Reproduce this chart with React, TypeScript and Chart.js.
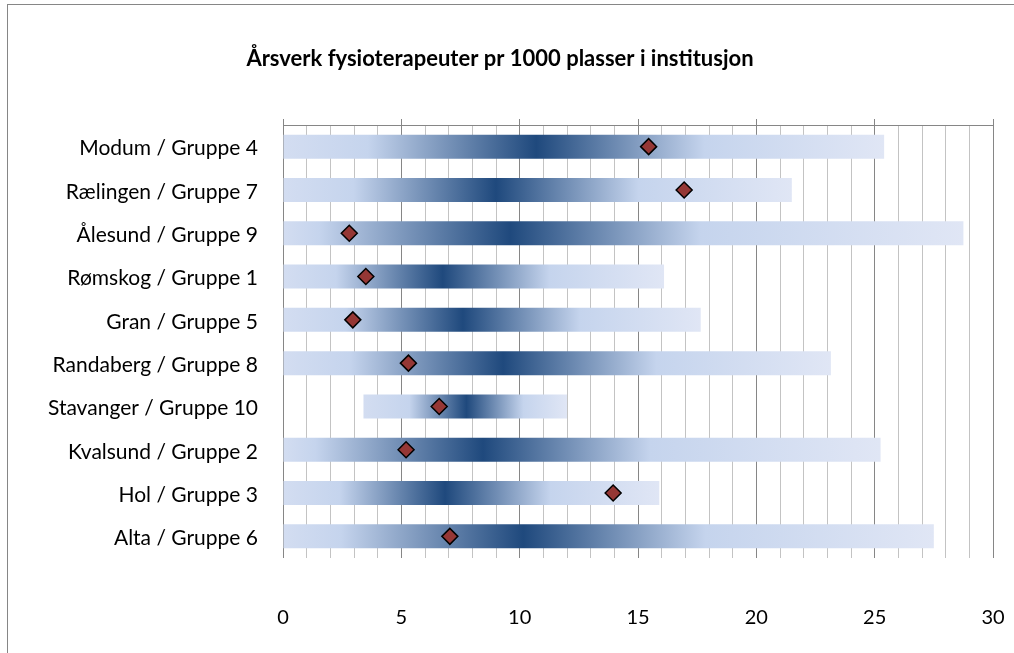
import React, { useEffect, useRef } from 'react';
import { Chart, registerables } from 'chart.js';

Chart.register(...registerables);

const categories = [
  'Modum / Gruppe 4',
  'Rælingen / Gruppe 7',
  'Ålesund / Gruppe 9',
  'Rømskog / Gruppe 1',
  'Gran / Gruppe 5',
  'Randaberg / Gruppe 8',
  'Stavanger / Gruppe 10',
  'Kvalsund / Gruppe 2',
  'Hol / Gruppe 3',
  'Alta / Gruppe 6',
];
const rangeStart = [0, 0, 0, 0, 0, 0, 3.4, 0, 0, 0];
const rangeEnd = [25.4, 21.5, 28.75, 16.1, 17.65, 23.15, 12.0, 25.25, 15.9, 27.5];
const groupMid = [10.7, 9.0, 9.6, 6.75, 7.6, 9.3, 7.75, 8.45, 6.85, 10.15];
const municipalityValue = [15.45, 16.95, 2.8, 3.5, 2.95, 5.3, 6.6, 5.2, 13.95, 7.05];
const xTickLabels = [0, 5, 10, 15, 20, 25, 30];
const chartTitle = 'Årsverk fysioterapeuter pr 1000 plasser i institusjon';

const FONT = 'Lato, "Open Sans", sans-serif';

const titlePlugin = {
  id: 'customTitle',
  afterDraw(chart: any) {
    const ctx = chart.ctx;
    ctx.save();
    ctx.font = `bold 22px ${FONT}`;
    ctx.fillStyle = '#000';
    ctx.textAlign = 'center';
    ctx.textBaseline = 'alphabetic';
    ctx.fillText(chartTitle, 500, 66);
    ctx.restore();
  },
};

const zeroPad = (s: any) => {
  s.paddingLeft = 0;
  s.paddingRight = 0;
  s.paddingTop = 0;
  s.paddingBottom = 0;
};

export default function App() {
  const ref = useRef<HTMLCanvasElement | null>(null);

  useEffect(() => {
    if (!ref.current) return;
    const barGradient = (c: any) => {
      const chart = c.chart;
      const i = c.dataIndex;
      const xs = chart.scales && chart.scales.x;
      if (!xs || i == null || i < 0) return '#c5d4ed';
      const x0 = xs.getPixelForValue(rangeStart[i]);
      const x1 = xs.getPixelForValue(rangeEnd[i]);
      if (!isFinite(x0) || !isFinite(x1) || x1 <= x0) return '#c5d4ed';
      const g = chart.ctx.createLinearGradient(x0, 0, x1, 0);
      const d = (groupMid[i] - rangeStart[i]) / (rangeEnd[i] - rangeStart[i]);
      g.addColorStop(0, '#d3ddf1');
      g.addColorStop(Math.max(0.01, d - 0.28), '#c5d4ed');
      g.addColorStop(d, '#1f497d');
      g.addColorStop(Math.min(0.99, d + 0.28), '#c5d4ed');
      g.addColorStop(1, '#e0e6f5');
      return g;
    };

    const chart = new Chart(ref.current, {
      type: 'bar',
      data: {
        labels: categories,
        datasets: [
          {
            type: 'line',
            label: 'Kommune',
            data: municipalityValue,
            indexAxis: 'y',
            showLine: false,
            pointStyle: 'rectRot',
            pointRadius: 8,
            pointHoverRadius: 8,
            pointBackgroundColor: '#953735',
            pointBorderColor: '#000000',
            pointBorderWidth: 1.5,
            order: 0,
            xAxisID: 'x',
            yAxisID: 'y',
          } as any,
          {
            type: 'bar',
            label: 'Gruppe',
            data: categories.map((_, i) => [rangeStart[i], rangeEnd[i]]),
            backgroundColor: barGradient,
            borderWidth: 0,
            barPercentage: 0.555,
            categoryPercentage: 1,
            order: 1,
            xAxisID: 'x',
            yAxisID: 'y',
          } as any,
        ],
      },
      options: {
        indexAxis: 'y',
        responsive: false,
        maintainAspectRatio: false,
        animation: false,
        devicePixelRatio: 1,
        layout: { padding: { top: 119, right: 21, bottom: 0, left: 0 } },
        plugins: {
          legend: { display: false },
          tooltip: { enabled: false },
          title: { display: false },
        },
        scales: {
          x: {
            type: 'linear',
            position: 'bottom',
            min: 0,
            max: 30,
            ticks: {
              stepSize: 1,
              autoSkip: false,
              maxRotation: 0,
              padding: 48,
              color: '#000',
              font: { family: FONT, size: 20 },
              callback: (v: any) => (xTickLabels.includes(Number(v)) ? String(v) : ''),
            },
            grid: {
              drawTicks: false,
              lineWidth: 1,
              color: (c: any) => (c.tick && xTickLabels.includes(c.tick.value) ? '#868686' : '#c3c3c3'),
            },
            border: { display: false },
            afterFit: (s: any) => {
              s.height = 95;
              zeroPad(s);
            },
          },
          x2: {
            type: 'linear',
            position: 'top',
            min: 0,
            max: 30,
            ticks: { display: false, stepSize: 5 },
            grid: { drawOnChartArea: false, drawTicks: true, tickLength: 6, color: '#868686' },
            border: { display: true, color: '#868686' },
            afterFit: (s: any) => {
              s.height = 6;
              zeroPad(s);
            },
          },
          y: {
            type: 'category',
            offset: true,
            grid: { display: false, drawTicks: false },
            border: { display: false },
            ticks: {
              padding: 25,
              labelOffset: 2,
              color: '#000',
              font: { family: FONT, size: 21 },
            },
            afterFit: (s: any) => {
              s.width = 283;
              zeroPad(s);
            },
          },
        },
      } as any,
      plugins: [titlePlugin],
    });
    return () => chart.destroy();
  }, []);

  return (
    <div style={{ position: 'fixed', left: 0, top: 0, width: 1014, height: 653, background: '#fff', overflow: 'hidden' }}>
      <div
        style={{
          position: 'absolute',
          left: 7,
          top: 4,
          width: 1007,
          height: 649,
          borderTop: '1px solid #868686',
          borderLeft: '1px solid #868686',
          boxSizing: 'border-box',
        }}
      />
      <canvas ref={ref} width={1014} height={653} style={{ position: 'absolute', left: 0, top: 0, width: 1014, height: 653 }} />
    </div>
  );
}
